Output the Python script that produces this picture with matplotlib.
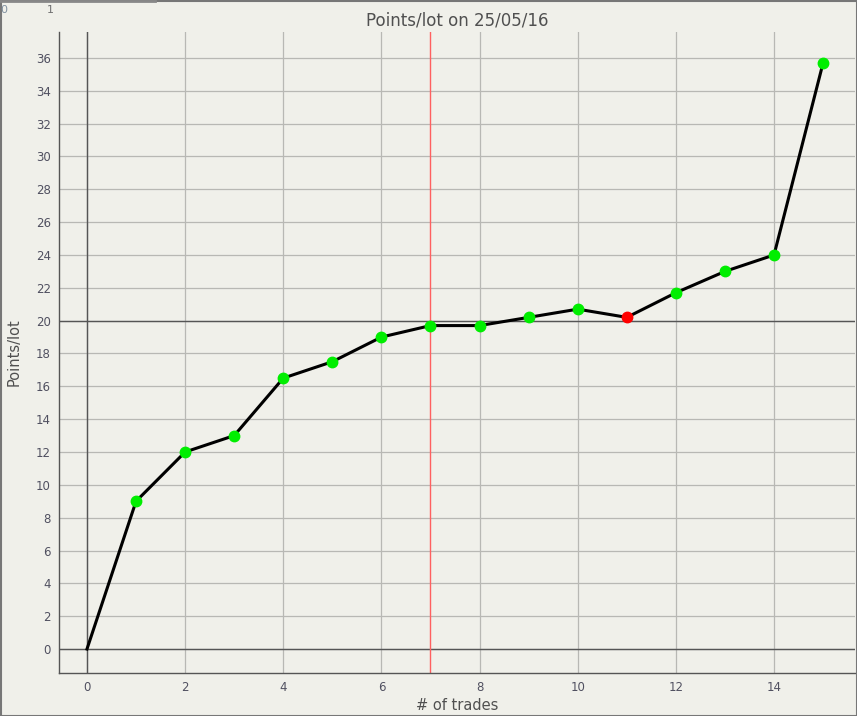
import matplotlib
matplotlib.use("Agg")
import matplotlib.pyplot as plt

trades = list(range(16))
points = [0, 9, 12, 13, 16.5, 17.5, 19, 19.7, 19.7, 20.2, 20.7, 20.2, 21.7, 23, 24, 35.7]
marker_colors = ['none'] + ['#00ee00'] * 10 + ['#ff0000'] + ['#00ee00'] * 4
xticks = list(range(0, 16, 2))
yticks = list(range(0, 37, 2))
red_line_x = 7
ref_y = 20

bg = '#f0f0ea'
fig = plt.figure(figsize=(8.57, 7.16), dpi=100, facecolor=bg)
ax = fig.add_axes([59/857, 43/716, 796/857, 641/716], facecolor=bg)

ax.set_xlim(-0.57, 15.65)
ax.set_ylim(-1.46, 37.58)
ax.set_xticks(xticks)
ax.set_yticks(yticks)
ax.tick_params(length=0, labelsize=8.5, colors='#505060', pad=6)
ax.grid(True, color='#b8b8b4', linewidth=0.9)
ax.set_axisbelow(True)
for s in ['top', 'right']:
    ax.spines[s].set_visible(False)
for s in ['left', 'bottom']:
    ax.spines[s].set_color('#555555')
    ax.spines[s].set_linewidth(1.0)

ax.axvline(0, color='#555555', linewidth=1.0, zorder=1)
ax.axhline(0, color='#555555', linewidth=1.0, zorder=1)
ax.axhline(ref_y, color='#555555', linewidth=1.0, zorder=1)
ax.axvline(red_line_x, color='#ff6060', linewidth=1.0, zorder=1)

ax.plot(trades, points, color='black', linewidth=2.2, zorder=3)
for x, y, c in zip(trades, points, marker_colors):
    if c != 'none':
        ax.plot([x], [y], 'o', color=c, markersize=7.5, zorder=4)

ax.set_title('Points/lot on 25/05/16', fontsize=12, color='#505050', pad=5)
ax.set_xlabel('# of trades', fontsize=10.5, color='#505050', labelpad=3)
ax.set_ylabel('Points/lot', fontsize=10.5, color='#505050', labelpad=10)

# small top-left artifact labels
fig.text(0/857, 1 - 10/716, '0', fontsize=8, color='#8090a0', va='center', ha='left')
fig.text(50/857, 1 - 10/716, '1', fontsize=8, color='#707070', va='center', ha='center')
fig.add_artist(plt.Line2D([0, 155/857], [1 - 1/716, 1 - 1/716], color='#888888', linewidth=2, transform=fig.transFigure))

# figure border
fig.add_artist(plt.Rectangle((0.5/857, 0.5/716), 1 - 1/857, 1 - 1/716, transform=fig.transFigure,
                             fill=False, edgecolor='#777777', linewidth=1.5))

fig.savefig('out.png', dpi=100, facecolor=bg)
